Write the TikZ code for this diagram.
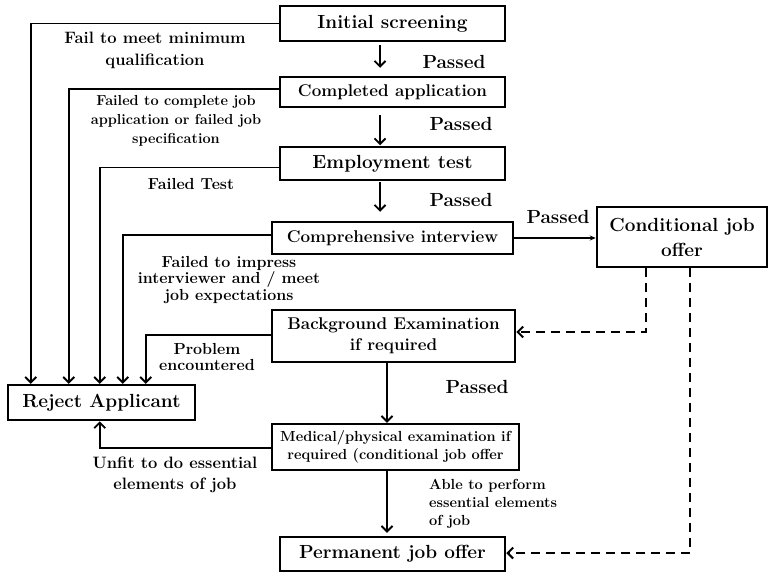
\documentclass[tikz,border=0pt]{standalone}
\usetikzlibrary{arrows.meta,calc}
\begin{document}
\begin{tikzpicture}[x=1pt,y=-1pt,
  box/.style={draw, line width=2.5pt, inner sep=0pt, align=center},
  fbig/.style={font=\bfseries\fontsize{19}{25}\selectfont},
  fmid/.style={font=\bfseries\fontsize{17}{21}\selectfont},
  lbl/.style={align=center, inner sep=0pt},
  conn/.style={line width=1.9pt, -{Straight Barb[length=5.5pt,width=11pt,line width=1.9pt]}},
  thin/.style={line width=1.4pt, -{Stealth[length=6pt,width=5pt]}},
  dconn/.style={line width=2pt, dash pattern=on 9pt off 6pt, -{Straight Barb[length=5.5pt,width=11pt,line width=2pt]}}
]
\useasboundingbox (0,0) rectangle (772,573);
% boxes
\node[box,fbig,minimum width=225pt,minimum height=35pt] (init) at (392.5,23.5) {Initial screening};
\node[box,fmid,minimum width=225pt,minimum height=30pt] (comp) at (392.5,92) {Completed application};
\node[box,fbig,minimum width=225pt,minimum height=33pt] (emp) at (392.5,163.5) {Employment test};
\node[box,fmid,minimum width=241pt,minimum height=32pt] (inter) at (392.5,238) {Comprehensive interview};
\node[box,fbig,minimum width=170pt,minimum height=60pt] (cond) at (682,237) {Conditional job\\offer};
\node[box,fmid,minimum width=243pt,minimum height=52pt] (back) at (393.5,336) {Background Examination\\if required};
\node[box,minimum width=247pt,minimum height=46pt,font=\bfseries\fontsize{14.6}{18}\selectfont] (med) at (395.5,447) {Medical/physical examination if\\required (conditional job offer};
\node[box,fbig,minimum width=225pt,minimum height=34pt] (perm) at (392.5,554) {Permanent job offer};
\node[box,fbig,minimum width=187pt,minimum height=35pt] (rej) at (101.5,402.5) {Reject Applicant};
% main flow
\draw[conn] ($(init.south)+(-12.5,3)$) -- ($(comp.north)+(-12.5,-8)$);
\draw[conn] ($(comp.south)+(-12.5,7)$) -- ($(comp.south)+(-12.5,37)$);
\draw[conn] ($(emp.south)+(-12.5,1)$) -- ($(inter.north)+(-12.5,-9)$);
\draw[thin] (inter.east) -- (inter.east -| cond.west);
\draw[conn] ($(back.south)+(-6.5,0)$) -- ($(med.north)+(-8.5,0)$);
\draw[conn] ($(med.south)+(-8.5,0)$) -- ($(perm.north)+(-5.5,-3)$);
\draw[dconn] ($(cond.south)+(-36,0)$) |- ($(back.east)+(0,-4)$);
\draw[dconn] ($(cond.south)+(8,0)$) |- ($(perm.east)+(0,-1)$);
% reject connectors
\draw[conn] (init.west) -| ($(rej.north west)+(24,0)$);
\draw[conn] ($(comp.west)+(0,-3)$) -| ($(rej.north west)+(62,0)$);
\draw[conn] ($(emp.west)+(0,4)$) -| ($(rej.north west)+(93,0)$);
\draw[conn] ($(inter.west)+(0,-3)$) -| ($(rej.north west)+(116,0)$);
\draw[conn] ($(back.west)+(0,-1)$) -| ($(rej.north west)+(139,0)$);
\draw[conn] ($(med.west)+(0,1)$) -| ($(rej.south west)+(93,0)$);
% labels
\node[lbl,font=\bfseries\fontsize{16.5}{22}\selectfont] (l1) at (155,50) {Fail to meet minimum\\qualification};
\node[lbl,font=\bfseries\fontsize{14.5}{19}\selectfont] (l2) at (176,121) {Failed to complete job\\application or failed job\\specification};
\node[lbl,font=\bfseries\fontsize{16}{19}\selectfont] (l3) at (191,184) {Failed Test};
\node[lbl,font=\bfseries\fontsize{16}{15}\selectfont] (l4) at (229,280) {Failed to impress\\interviewer and / meet\\job expectations};
\node[lbl,font=\bfseries\fontsize{16}{16.5}\selectfont] (l5) at (207,357) {Problem\\encountered};
\node[lbl,font=\bfseries\fontsize{16.5}{21}\selectfont] (l6) at (175,475) {Unfit to do essential\\elements of job};
\node[lbl,align=left,anchor=west,font=\bfseries\fontsize{14.6}{18}\selectfont] (l7) at (429,504) {Able to perform\\essential elements\\of job};
\node[lbl,fbig] (p1) at (454,62) {Passed};
\node[lbl,fbig] (p2) at (461,124) {Passed};
\node[lbl,fbig] (p3) at (461,200) {Passed};
\node[lbl,fbig] (p4) at (558,217) {Passed};
\node[lbl,fbig] (p5) at (477,387) {Passed};
\end{tikzpicture}
\end{document}
